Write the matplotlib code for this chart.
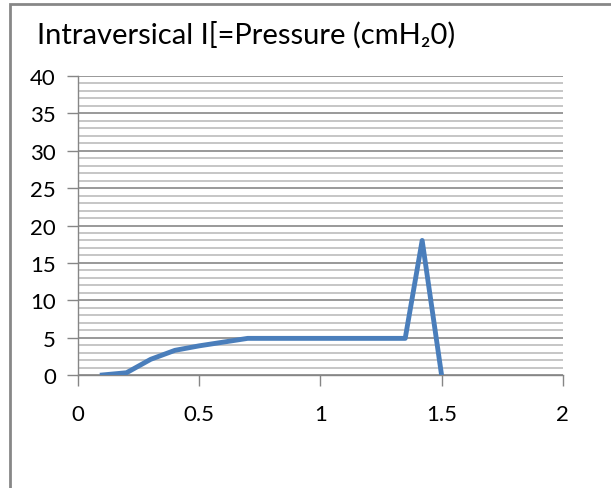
import matplotlib.pyplot as plt
from matplotlib.patches import Rectangle
from matplotlib.ticker import MultipleLocator

# Bladder pressure trace
time_s = [0.1, 0.2, 0.3, 0.4, 0.5, 0.6, 0.7, 0.8, 0.9, 1.0, 1.1, 1.2, 1.3, 1.35, 1.42, 1.5]
pressure = [0.0, 0.3, 2.1, 3.3, 3.9, 4.4, 4.9, 4.9, 4.9, 4.9, 4.9, 4.9, 4.9, 4.9, 18.0, 0.0]

title = "Intraversical I[=Pressure (cmH\u20820)"
x_ticks = [0, 0.5, 1, 1.5, 2]
x_labels = ["0", "0.5", "1", "1.5", "2"]

plt.rcParams['font.family'] = ['Lato', 'DejaVu Sans']

fig = plt.figure(figsize=(6.11, 4.89), dpi=100)
ax = fig.add_axes([0.1277, 0.2311, 0.7933, 0.6114])

# chart frame (open at right and bottom)
fig.patches.append(Rectangle((10 / 611, -0.1), 1.2, 1 - 5 / 489 + 0.1,
                             transform=fig.transFigure, fill=False,
                             edgecolor='#878787', linewidth=2))

ax.plot(time_s, pressure, color='#4a7ebb', linewidth=3.5, solid_joinstyle='round', zorder=3)

ax.set_xlim(0, 2)
ax.set_ylim(0, 40)
ax.yaxis.set_major_locator(MultipleLocator(5))
ax.yaxis.set_minor_locator(MultipleLocator(1))
ax.set_xticks(x_ticks)
ax.set_xticklabels(x_labels)

ax.grid(which='major', axis='y', color='#888888', linewidth=1.2)
ax.grid(which='minor', axis='y', color='#c2c2c2', linewidth=1.3)
ax.set_axisbelow(True)

for side in ['top', 'right']:
    ax.spines[side].set_visible(False)
for side in ['left', 'bottom']:
    ax.spines[side].set_color('#868686')
    ax.spines[side].set_linewidth(1)

ax.tick_params(axis='y', which='major', length=8, width=1, color='#868686',
               labelsize=16, pad=8)
ax.tick_params(axis='y', which='minor', length=0)
ax.tick_params(axis='x', length=8, width=1, color='#868686', labelsize=16, pad=13)

fig.text(37 / 611, 1 - 35 / 489, title, fontsize=21, va='center', ha='left')

fig.savefig('out.png', dpi=100)
